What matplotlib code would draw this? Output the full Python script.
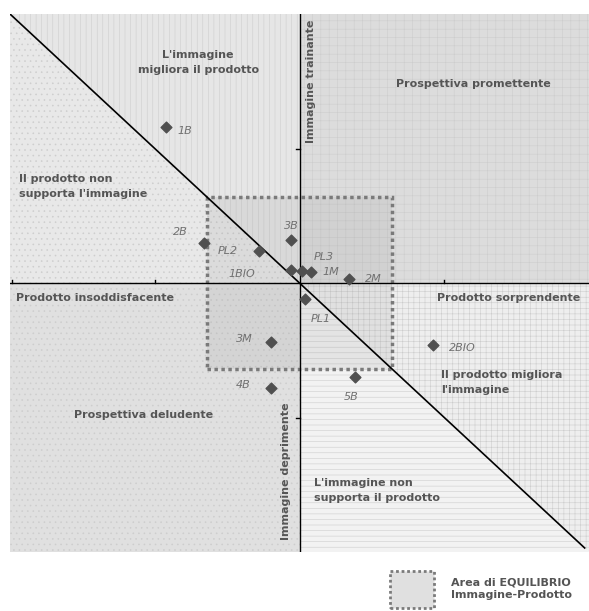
import matplotlib.pyplot as plt
from matplotlib.patches import Polygon, Rectangle

plt.rcParams['hatch.linewidth'] = 0.4

# product / brand positions (x = prodotto, y = immagine)
labels = ['1B', '2B', 'PL2', '3B', '1BIO', 'PL3', '1M', '2M', 'PL1', '3M', '4B', '5B', '2BIO']
xs = [-0.46, -0.33, -0.14, -0.03, -0.03, 0.01, 0.04, 0.17, 0.02, -0.10, -0.10, 0.19, 0.46]
ys = [0.58, 0.15, 0.12, 0.16, 0.05, 0.045, 0.04, 0.015, -0.06, -0.22, -0.39, -0.35, -0.23]
# label offsets in points
offs = [(8, -3), (-22, 8), (-30, 0), (-5, 10), (-45, -3), (8, 10), (8, 0), (12, 0),
        (4, -14), (-25, 2), (-25, 2), (-8, -14), (12, -2)]

equilibrio = 0.32

fig = plt.figure(figsize=(5.89, 6.11), dpi=100)
ax = fig.add_axes([10 / 589, 59 / 611, 579 / 589, 538 / 611])
ax.set_xlim(-1, 1)
ax.set_ylim(-1, 1)
ax.axis('off')

# quadrant areas
regions = [
    ([(-1, 1), (0, 1), (0, 0)], '#e6e6e6', '|||'),
    ([(-1, 1), (-1, 0), (0, 0)], '#e8e8e8', '...'),
    ([(0, 0), (0, 1), (1, 1), (1, 0)], '#dcdcdc', '++'),
    ([(0, 0), (-1, 0), (-1, -1), (0, -1)], '#e0e0e0', '...'),
    ([(0, 0), (1, 0), (1, -1)], '#eeeeee', '+++'),
    ([(0, 0), (0, -1), (1, -1)], '#f2f2f2', '---'),
]
for pts, fc, h in regions:
    ax.add_patch(Polygon(pts, closed=True, facecolor=fc, edgecolor='#cdcdcd',
                         hatch=h, linewidth=0, zorder=1))

# equilibrium area
e = equilibrio
ax.add_patch(Rectangle((-e, -e), 2 * e, 2 * e, facecolor='#888888', alpha=0.13,
                       edgecolor='none', zorder=2))
ax.add_patch(Rectangle((-e, -e), 2 * e, 2 * e, facecolor='none', edgecolor='#7a7a7a',
                       linestyle=(0, (1, 1)), linewidth=2.5, zorder=3))

# axes and diagonal
ax.plot([-1, 1], [0, 0], color='black', lw=1, zorder=4)
ax.plot([0, 0], [-1, 1], color='black', lw=1, zorder=4)
ax.plot([-1, 0.985], [1, -0.985], color='black', lw=1.2, zorder=4)
for t in [-0.5, 0.5]:
    ax.plot([t, t], [0, 0.012], color='black', lw=1, zorder=4)
    ax.plot([0, -0.012], [t, t], color='black', lw=1, zorder=4)
ax.plot([-0.993, -0.993], [0, 0.012], color='black', lw=1, zorder=4)

# points
ax.scatter(xs, ys, marker='D', s=30, color='#505050', zorder=5)
for lab, x, y, (dx, dy) in zip(labels, xs, ys, offs):
    ax.annotate(lab, (x, y), xytext=(dx, dy), textcoords='offset points',
                fontsize=8, style='italic', color='#707070', va='center', zorder=6)

txt = dict(fontsize=8, fontweight='bold', color='#555555', zorder=6)
ax.text(-0.35, 0.82, "L'immagine\nmigliora il prodotto", ha='center', va='center',
        linespacing=1.6, **txt)
ax.text(0.6, 0.74, 'Prospettiva promettente', ha='center', va='center', **txt)
ax.text(0.04, 0.75, 'Immagine trainante', rotation=90, ha='center', va='center', **txt)
ax.text(-0.97, 0.36, "Il prodotto non\nsupporta l'immagine", ha='left', va='center',
        linespacing=1.6, **txt)
ax.text(-0.98, -0.055, 'Prodotto insoddisfacente', ha='left', va='center', **txt)
ax.text(0.97, -0.055, 'Prodotto sorprendente', ha='right', va='center', **txt)
ax.text(0.49, -0.37, "Il prodotto migliora\nl'immagine", ha='left', va='center',
        linespacing=1.6, **txt)
ax.text(-0.78, -0.49, 'Prospettiva deludente', ha='left', va='center', **txt)
ax.text(-0.045, -0.7, 'Immagine deprimente', rotation=90, ha='center', va='center', **txt)
ax.text(0.05, -0.77, "L'immagine non\nsupporta il prodotto", ha='left', va='center',
        linespacing=1.6, **txt)

# legend
fig.patches.append(Rectangle((390 / 589, 3 / 611), 44 / 589, 37 / 611,
                             transform=fig.transFigure, facecolor='#e0e0e0',
                             edgecolor='#7a7a7a', linestyle=(0, (1, 1)), linewidth=2))
fig.text(451 / 589, 22 / 611, 'Area di EQUILIBRIO\nImmagine-Prodotto', ha='left',
         va='center', fontsize=8, fontweight='bold', color='#555555', linespacing=1.3)

fig.savefig('out.png', dpi=100, facecolor='white')
